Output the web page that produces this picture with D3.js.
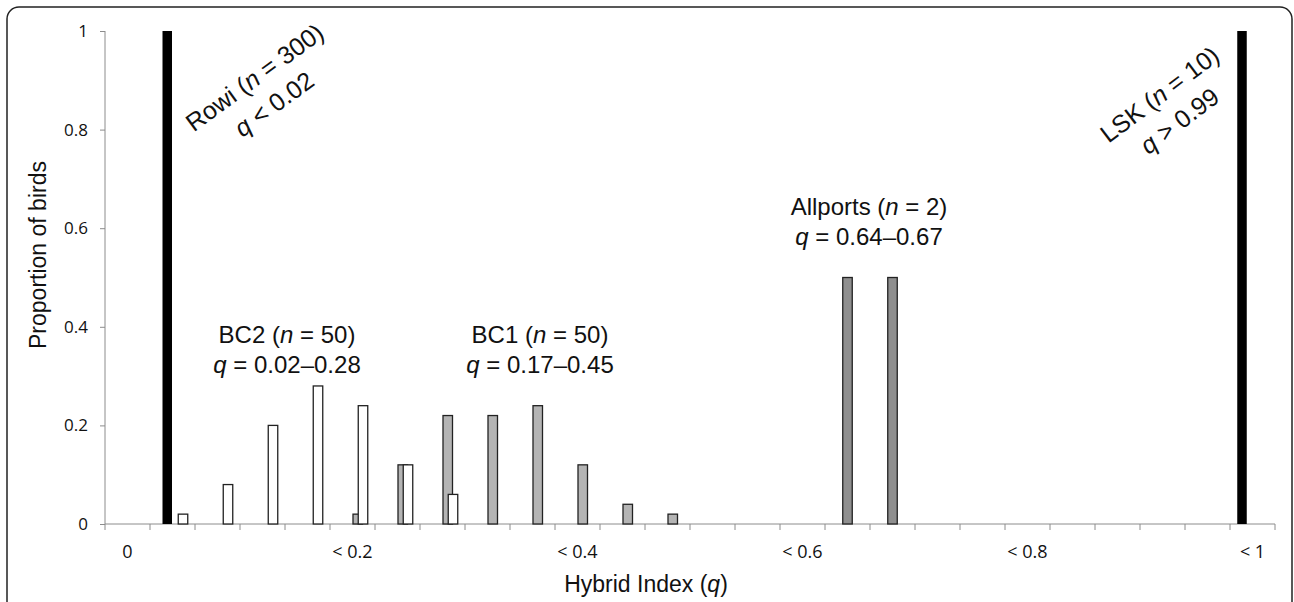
<!DOCTYPE html>
<html>
<head>
<meta charset="utf-8">
<script src="https://cdnjs.cloudflare.com/ajax/libs/d3/7.8.5/d3.min.js"></script>
<style>
    body { margin: 0; background: #fff; }
    svg { display: block; }
    .axis path, .axis line { stroke: #8c8c8c; }
    .note { font-family: "Liberation Sans", Arial, sans-serif; font-size: 24px; fill: #111; }
</style>
</head>
<body>
<svg id="chart" width="1294" height="602"></svg>
<script>
// hybrid index bins (width 0.04), only every 5th label is shown
const bins = ["0", "< 0.04", "< 0.08", "< 0.12", "< 0.16", "< 0.2", "< 0.24", "< 0.28", "< 0.32", "< 0.36",
    "< 0.4", "< 0.44", "< 0.48", "< 0.52", "< 0.56", "< 0.6", "< 0.64", "< 0.68", "< 0.72", "< 0.76",
    "< 0.8", "< 0.84", "< 0.88", "< 0.92", "< 0.96", "< 1"];
const shownBins = ["0", "< 0.2", "< 0.4", "< 0.6", "< 0.8", "< 1"];
const yTicks = [0, 0.2, 0.4, 0.6, 0.8, 1];

// proportion of birds per bin
const lsk      = [0, 0, 0, 0, 0, 0, 0, 0, 0, 0, 0, 0, 0, 0, 0, 0, 0, 0, 0, 0, 0, 0, 0, 0, 0, 1];
const rowi     = [0, 1, 0, 0, 0, 0, 0, 0, 0, 0, 0, 0, 0, 0, 0, 0, 0, 0, 0, 0, 0, 0, 0, 0, 0, 0];
const allports = [0, 0, 0, 0, 0, 0, 0, 0, 0, 0, 0, 0, 0, 0, 0, 0, 0.5, 0.5, 0, 0, 0, 0, 0, 0, 0, 0];
const bc1      = [0, 0, 0, 0, 0, 0.02, 0.12, 0.22, 0.22, 0.24, 0.12, 0.04, 0.02, 0, 0, 0, 0, 0, 0, 0, 0, 0, 0, 0, 0, 0];
const bc2      = [0, 0.02, 0.08, 0.20, 0.28, 0.24, 0.12, 0.06, 0, 0, 0, 0, 0, 0, 0, 0, 0, 0, 0, 0, 0, 0, 0, 0, 0, 0];

const seriesNames = ["LSK", "Rowi", "Allports", "BC1", "BC2"];
const seriesValues = [lsk, rowi, allports, bc1, bc2];
const seriesFill = {"LSK": "#000", "Rowi": "#000", "Allports": "#8f8f8f", "BC1": "#b4b4b4", "BC2": "#fff"};

const svg = d3.select("#chart");

// rounded frame round the figure
svg.append("rect")
    .attr("x", 7).attr("y", 7)
    .attr("width", 1285).attr("height", 640)
    .attr("rx", 12)
    .attr("fill", "none")
    .attr("stroke", "#222")
    .attr("stroke-width", 1.5);

const x = d3.scaleBand().domain(bins).range([105, 1275]).padding(0);
const y = d3.scaleLinear().domain([0, 1]).range([524, 31]);
// excel-like overlapping clusters
const slot = d3.scalePoint().domain(seriesNames).range([12, 33]);
const barW = 9.5;

function styleTicks(g, size) {
    g.selectAll("text")
        .style("font-family", "'Open Sans', sans-serif")
        .style("font-size", size + "px")
        .style("fill", "#111");
}

svg.append("g")
    .attr("class", "axis")
    .attr("transform", "translate(105,0)")
    .call(d3.axisLeft(y).tickValues(yTicks).tickSize(5).tickPadding(12).tickFormat(d3.format("")))
    .call(g => g.select(".domain").attr("d", "M0," + y(1) + "V" + y(0)))
    .call(styleTicks, 17);

const xAxis = svg.append("g")
    .attr("class", "axis")
    .attr("transform", "translate(0,524)")
    .call(d3.axisBottom(x).tickSize(0).tickPadding(21).tickFormat(d => shownBins.includes(d) ? d : ""))
    .call(styleTicks, 18);
xAxis.select(".domain").attr("d", "M105,0H1275");
// ticks sit on the bin borders
xAxis.selectAll(".edge")
    .data(bins.concat(["end"]))
    .join("line")
    .attr("class", "edge")
    .attr("x1", (d, i) => i < bins.length ? x(d) : x.range()[1])
    .attr("x2", (d, i) => i < bins.length ? x(d) : x.range()[1])
    .attr("y1", 0).attr("y2", 6)
    .attr("stroke", "#8c8c8c");

for (var s = 0; s < seriesNames.length; s++) {
    let name = seriesNames[s];
    let rows = bins.map((b, i) => ({bin: b, v: seriesValues[s][i]})).filter(d => d.v > 0);
    let black = seriesFill[name] === "#000";
    svg.append("g").selectAll("rect")
        .data(rows)
        .join("rect")
        .attr("x", d => x(d.bin) + slot(name) - barW / 2)
        .attr("y", d => y(d.v))
        .attr("width", barW)
        .attr("height", d => y(0) - y(d.v))
        .attr("fill", seriesFill[name])
        .attr("stroke", black ? "none" : "#222")
        .attr("stroke-width", 1.3);
}

function addLine(parent, parts, px, py) {
    let t = parent.append("text")
        .attr("class", "note")
        .attr("x", px).attr("y", py)
        .attr("text-anchor", "middle");
    for (let p of parts) {
        t.append("tspan").text(p[0]).style("font-style", p[1] ? "italic" : "normal");
    }
    return t;
}

// group labels
addLine(svg, [["BC2 (", 0], ["n", 1], [" = 50)", 0]], 287, 343);
addLine(svg, [["q", 1], [" = 0.02–0.28", 0]], 287, 373);
addLine(svg, [["BC1 (", 0], ["n", 1], [" = 50)", 0]], 540, 343);
addLine(svg, [["q", 1], [" = 0.17–0.45", 0]], 540, 373);
addLine(svg, [["Allports (", 0], ["n", 1], [" = 2)", 0]], 869, 215);
addLine(svg, [["q", 1], [" = 0.64–0.67", 0]], 869, 245);

let rowiG = svg.append("g").attr("transform", "translate(255,78) rotate(-36)");
addLine(rowiG, [["Rowi (", 0], ["n", 1], [" = 300)", 0]], 0, 8).style("font-size", "25px");
addLine(rowiG, [["q", 1], [" < 0.02", 0]], 0, 41).style("font-size", "25px");

let lskG = svg.append("g").attr("transform", "translate(1160,95) rotate(-37)");
addLine(lskG, [["LSK (", 0], ["n", 1], [" = 10)", 0]], 0, 8).style("font-size", "25px");
addLine(lskG, [["q", 1], [" > 0.99", 0]], 0, 41).style("font-size", "25px");

// axis titles
addLine(svg, [["Proportion of birds", 0]], 0, 0)
    .attr("transform", "translate(46,255) rotate(-90)")
    .style("font-size", "23px");
addLine(svg, [["Hybrid Index (", 0], ["q", 1], [")", 0]], 646, 592)
    .style("font-size", "23px");
</script>
</body>
</html>
